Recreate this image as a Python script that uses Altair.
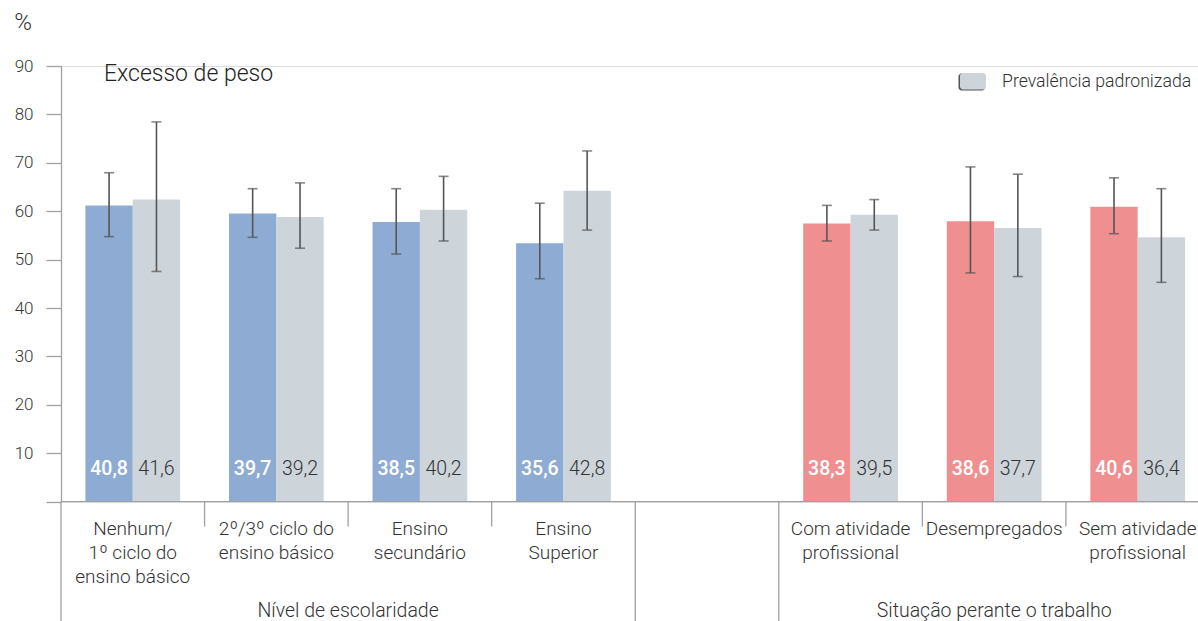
import altair as alt
import pandas as pd

# Excesso de peso: crude vs. standardised prevalence (%) by education and work situation
categories = [
    "Nenhum/\n1º ciclo do\nensino básico",
    "2º/3º ciclo do\nensino básico",
    "Ensino\nsecundário",
    "Ensino\nSuperior",
    "Com atividade\nprofissional",
    "Desempregados",
    "Sem atividade\nprofissional",
]
groups = ["edu", "edu", "edu", "edu", "work", "work", "work"]
group_titles = {"edu": "Nível de escolaridade", "work": "Situação perante o trabalho"}

crude = [40.8, 39.7, 38.5, 35.6, 38.3, 38.6, 40.6]
crude_lo = [36.5, 36.4, 34.1, 30.7, 35.9, 31.5, 36.9]
crude_hi = [45.3, 43.1, 43.1, 41.1, 40.8, 46.1, 44.6]

standard = [41.6, 39.2, 40.2, 42.8, 39.5, 37.7, 36.4]
standard_lo = [31.7, 34.9, 35.9, 37.4, 37.4, 31.0, 30.2]
standard_hi = [52.3, 43.9, 44.8, 48.3, 41.6, 45.1, 43.1]

group_colours = {"edu": "#8eabd4", "work": "#ef8f8f"}
GREY = "#cdd5db"
TEXT = "#333333"
FONT = "Roboto"

# the printed axis runs 0-90 while the bars use 0-60
AXIS_FACTOR = 1.5

W, H = 1137, 435.6
BAR = 0.33

# slot index: one empty slot between the two groups
slots = [i + (1 if g == "work" else 0) for i, g in enumerate(groups)]

rows = []
for i, cat in enumerate(categories):
    s = slots[i]
    rows.append(dict(series="crude", cat=cat, slot=s, x0=s - BAR, x1=s, xc=s - BAR / 2,
                     v=crude[i], lo=crude_lo[i], hi=crude_hi[i],
                     colour=group_colours[groups[i]], tcol="white",
                     label=f"{crude[i]:.1f}".replace(".", ",")))
    rows.append(dict(series="std", cat=cat, slot=s, x0=s, x1=s + BAR, xc=s + BAR / 2,
                     v=standard[i], lo=standard_lo[i], hi=standard_hi[i],
                     colour=GREY, tcol=TEXT,
                     label=f"{standard[i]:.1f}".replace(".", ",")))
df = pd.DataFrame(rows)

cats_df = pd.DataFrame({"cat": categories, "slot": slots})

grp_df = pd.DataFrame({
    "title": [group_titles["edu"], group_titles["work"]],
    "slot": [sum(s for s, g in zip(slots, groups) if g == "edu") / groups.count("edu"),
             sum(s for s, g in zip(slots, groups) if g == "work") / groups.count("work")],
})

# boundaries between categories (short) and between groups (long)
short_b = [s + 0.5 for s, g in zip(slots[:-1], groups[:-1]) if g == groups[slots.index(s) + 1]]
long_b = [-0.5, max(s for s, g in zip(slots, groups) if g == "edu") + 0.5,
          min(s for s, g in zip(slots, groups) if g == "work") - 0.5]
short_df = pd.DataFrame({"b": short_b})
long_df = pd.DataFrame({"b": long_b})

xscale = alt.Scale(domain=[-0.5, 7.42], nice=False, zero=False)
yscale = alt.Scale(domain=[0, 60], nice=False)

tick_vals = [v / AXIS_FACTOR for v in range(0, 91, 10)]

base = alt.Chart(df)

bars = base.mark_bar().encode(
    x=alt.X("x0:Q", scale=xscale, axis=None),
    x2="x1:Q",
    y=alt.Y("v:Q", scale=yscale, axis=alt.Axis(
        values=tick_vals,
        labelExpr=f"datum.value < 1 ? '' : format(datum.value * {AXIS_FACTOR}, '.0f')",
        tickSize=15, labelPadding=13, domainColor="#a0a0a0", tickColor="#a0a0a0",
        domainWidth=1.3, tickWidth=1.3, grid=False, title=None,
        labelFontSize=17, labelFontWeight=300, labelColor=TEXT, labelFont=FONT)),
    y2=alt.datum(0),
    color=alt.Color("colour:N", scale=None),
)

err = base.mark_rule(color="#555555", strokeWidth=1.6).encode(
    x=alt.X("xc:Q", scale=xscale), y=alt.Y("lo:Q", scale=yscale), y2="hi:Q")
cap_lo = base.mark_tick(orient="horizontal", color="#555555", size=10, thickness=1.6).encode(
    x=alt.X("xc:Q", scale=xscale), y=alt.Y("lo:Q", scale=yscale))
cap_hi = base.mark_tick(orient="horizontal", color="#555555", size=10, thickness=1.6).encode(
    x=alt.X("xc:Q", scale=xscale), y=alt.Y("hi:Q", scale=yscale))

crude_labels = alt.Chart(df[df.series == "crude"]).mark_text(
    font=FONT, fontSize=19.5, fontWeight=500, baseline="middle").encode(
    x=alt.X("xc:Q", scale=xscale), y=alt.value(H - 33),
    text="label:N", color=alt.Color("tcol:N", scale=None))
std_labels = alt.Chart(df[df.series == "std"]).mark_text(
    font=FONT, fontSize=19.5, fontWeight=300, baseline="middle").encode(
    x=alt.X("xc:Q", scale=xscale), y=alt.value(H - 33),
    text="label:N", color=alt.Color("tcol:N", scale=None))

baseline = alt.Chart(pd.DataFrame({"z": [0]})).mark_rule(color="#a0a0a0", strokeWidth=1.3).encode(
    x=alt.value(0), x2=alt.value(W), y=alt.Y("z:Q", scale=yscale))

short_sep = alt.Chart(short_df).mark_rule(color="#a0a0a0", strokeWidth=1.3).encode(
    x=alt.X("b:Q", scale=xscale), y=alt.value(H), y2=alt.value(H + 25))
long_sep = alt.Chart(long_df).mark_rule(color="#a0a0a0", strokeWidth=1.3).encode(
    x=alt.X("b:Q", scale=xscale), y=alt.value(H), y2=alt.value(H + 125))

cat_labels = alt.Chart(cats_df).mark_text(
    font=FONT, fontSize=19, fontWeight=300, baseline="top", lineBreak="\n",
    lineHeight=24, color=TEXT).encode(
    x=alt.X("slot:Q", scale=xscale), y=alt.value(H + 18), text="cat:N")

grp_labels = alt.Chart(grp_df).mark_text(
    font=FONT, fontSize=19.5, fontWeight=300, baseline="middle", color=TEXT).encode(
    x=alt.X("slot:Q", scale=xscale), y=alt.value(H + 109), text="title:N")

pct = alt.Chart(pd.DataFrame({"t": ["%"]})).mark_text(
    font=FONT, fontSize=24, fontWeight=300, baseline="middle", align="center", color=TEXT).encode(
    x=alt.value(-38), y=alt.value(-43), text="t:N")

title = alt.Chart(pd.DataFrame({"t": ["Excesso de peso"]})).mark_text(
    font=FONT, fontSize=23, fontWeight=300, baseline="middle", align="left", color="#222222").encode(
    x=alt.value(43), y=alt.value(8), text="t:N")

swatch_shadow = alt.Chart(pd.DataFrame({"k": [0]})).mark_rect(
    color="#555555", cornerRadius=3).encode(
    x=alt.value(897.5), x2=alt.value(924), y=alt.value(7.5), y2=alt.value(24.5))
swatch = alt.Chart(pd.DataFrame({"k": [0]})).mark_rect(
    color=GREY, cornerRadius=3).encode(
    x=alt.value(899), x2=alt.value(925), y=alt.value(7), y2=alt.value(23.5))
legend_text = alt.Chart(pd.DataFrame({"t": ["Prevalência padronizada"]})).mark_text(
    font=FONT, fontSize=17.7, fontWeight=300, baseline="middle", align="left", color=TEXT).encode(
    x=alt.value(941), y=alt.value(16), text="t:N")

chart = alt.layer(
    bars, err, cap_lo, cap_hi, crude_labels, std_labels, baseline, short_sep, long_sep,
    cat_labels, grp_labels, pct, title, swatch_shadow, swatch, legend_text,
).properties(
    width=W, height=H,
    autosize=alt.AutoSizeParams(type="none"),
    padding={"left": 61, "top": 66, "right": 0, "bottom": 621 - 66 - H},
).configure_view(stroke=None).configure(font=FONT)

chart.save("out.html", embed_options={"renderer": "svg", "actions": False})
